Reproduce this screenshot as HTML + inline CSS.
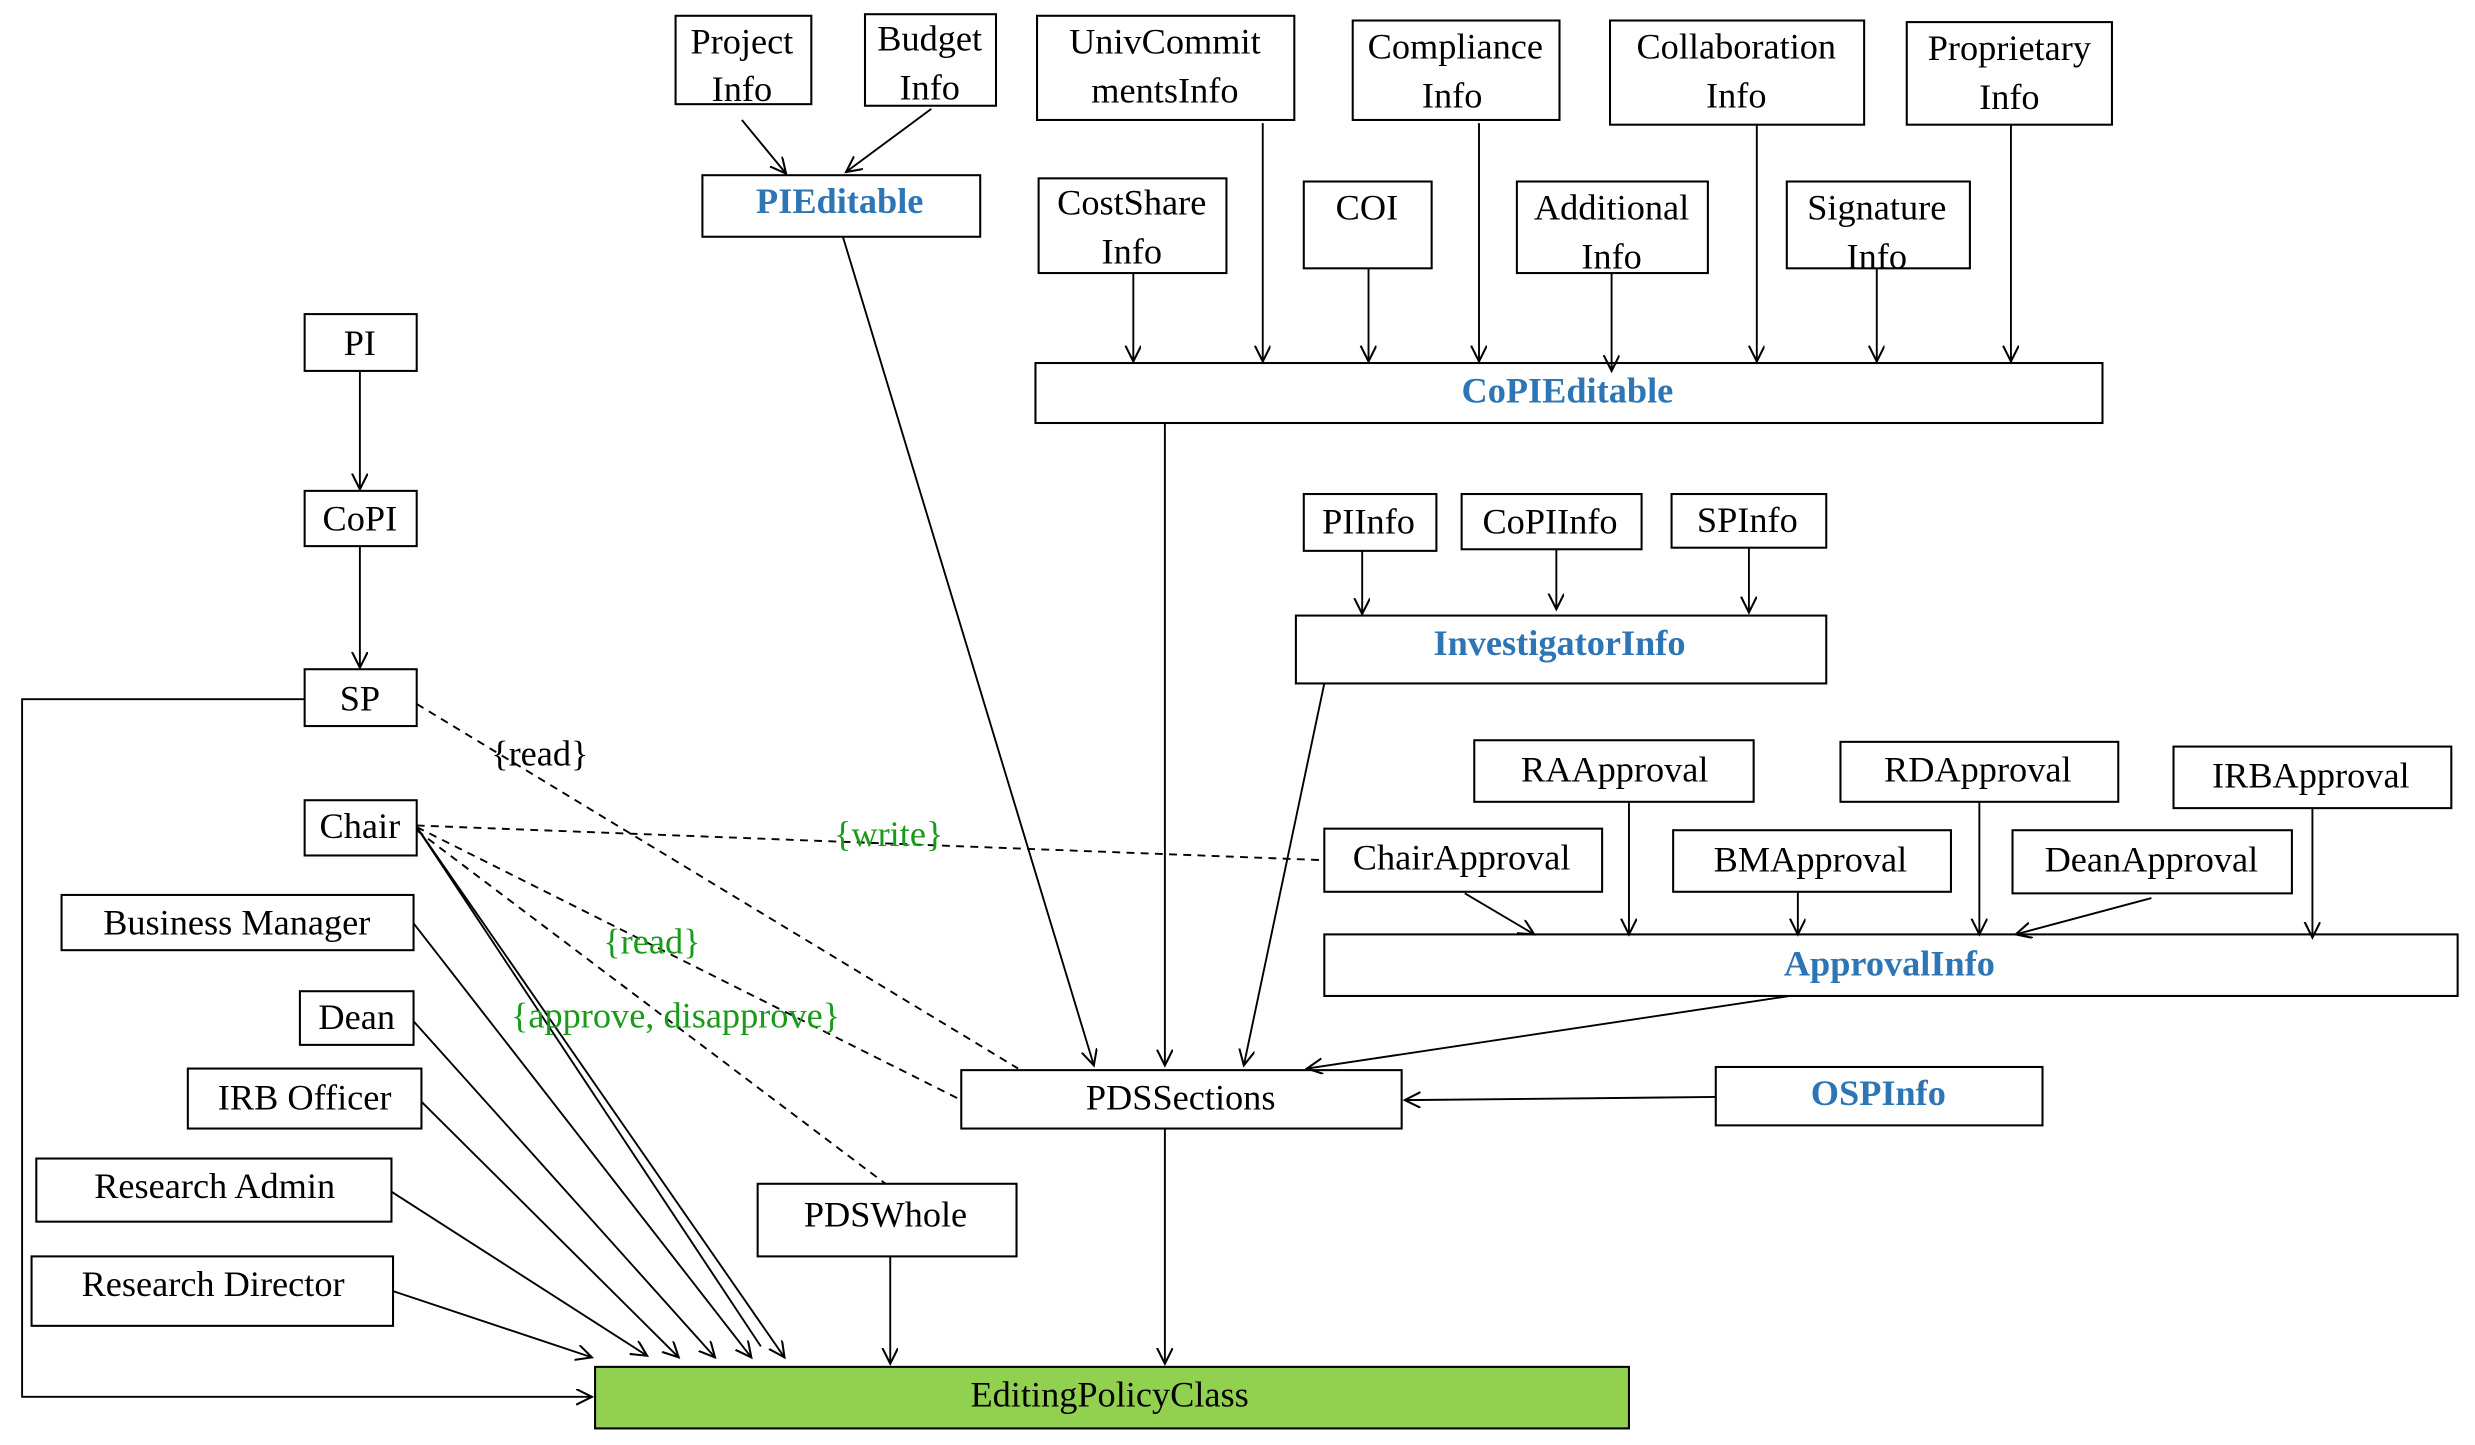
<!DOCTYPE html>
<html><head><meta charset="utf-8"><style>
html,body{margin:0;padding:0;background:#fff;}
svg{display:block;}
text{font-family:"Liberation Serif",serif;font-size:23px;fill:#000;}
.b{fill:#2e75b6;font-weight:bold;}
.g{fill:#1a9a1a;}
rect{fill:#fff;stroke:#000;stroke-width:1.3;}
line,polyline{stroke:#000;stroke-width:1.2;fill:none;}
.d{stroke-dasharray:5,4;}
</style></head><body>
<svg width="2475" height="1445" viewBox="0 0 1568 915.5" preserveAspectRatio="none" xmlns="http://www.w3.org/2000/svg">
<defs><marker id="a" markerWidth="12" markerHeight="12" refX="10" refY="5" orient="auto" markerUnits="userSpaceOnUse"><path d="M0,0 L10,5 L0,10" fill="none" stroke="#000" stroke-width="1.3"/></marker></defs>
<g text-anchor="middle" transform="scale(0.93,1)">
</g>
<!-- boxes -->
<rect x="428" y="10" width="86" height="56"/>
<rect x="548" y="9" width="83" height="58"/>
<rect x="657" y="10" width="163" height="66"/>
<rect x="857" y="13" width="131" height="63"/>
<rect x="1020" y="13" width="161" height="66"/>
<rect x="1208" y="14" width="130" height="65"/>
<rect x="445" y="111" width="176" height="39"/>
<rect x="658" y="113" width="119" height="60"/>
<rect x="826" y="115" width="81" height="55"/>
<rect x="961" y="115" width="121" height="58"/>
<rect x="1132" y="115" width="116" height="55"/>
<rect x="656" y="230" width="676" height="38"/>
<rect x="193" y="199" width="71" height="36"/>
<rect x="193" y="311" width="71" height="35"/>
<rect x="193" y="424" width="71" height="36"/>
<rect x="826" y="313" width="84" height="36"/>
<rect x="926" y="313" width="114" height="35"/>
<rect x="1059" y="313" width="98" height="34"/>
<rect x="821" y="390" width="336" height="43"/>
<rect x="934" y="469" width="177" height="39"/>
<rect x="1166" y="470" width="176" height="38"/>
<rect x="1377" y="473" width="176" height="39"/>
<rect x="193" y="507" width="71" height="35"/>
<rect x="839" y="525" width="176" height="40"/>
<rect x="1060" y="526" width="176" height="39"/>
<rect x="1275" y="526" width="177" height="40"/>
<rect x="39" y="567" width="223" height="35"/>
<rect x="839" y="592" width="718" height="39"/>
<rect x="190" y="628" width="72" height="34"/>
<rect x="119" y="677" width="148" height="38"/>
<rect x="609" y="678" width="279" height="37"/>
<rect x="1087" y="676" width="207" height="37"/>
<rect x="23" y="734" width="225" height="40"/>
<rect x="480" y="750" width="164" height="46"/>
<rect x="20" y="796" width="229" height="44"/>
<rect x="377" y="866" width="655" height="39" style="fill:#92d050"/>
<!-- solid connectors -->
<g marker-end="url(#a)">
<line x1="470" y1="76" x2="498" y2="110"/>
<line x1="590" y1="69" x2="536" y2="109"/>
<line x1="718" y1="173" x2="718" y2="229"/>
<line x1="800" y1="78" x2="800" y2="229"/>
<line x1="867" y1="170" x2="867" y2="229"/>
<line x1="937" y1="78" x2="937" y2="229"/>
<line x1="1021" y1="173" x2="1021" y2="235"/>
<line x1="1113" y1="79" x2="1113" y2="229"/>
<line x1="1189" y1="170" x2="1189" y2="229"/>
<line x1="1274" y1="79" x2="1274" y2="229"/>
<line x1="228" y1="235" x2="228" y2="310"/>
<line x1="228" y1="346" x2="228" y2="423"/>
<line x1="863" y1="349" x2="863" y2="389"/>
<line x1="986" y1="348" x2="986" y2="386"/>
<line x1="1108" y1="347" x2="1108" y2="388"/>
<line x1="928" y1="566" x2="972" y2="592"/>
<line x1="1032" y1="508" x2="1032" y2="592"/>
<line x1="1139" y1="565" x2="1139" y2="592"/>
<line x1="1254" y1="508" x2="1254" y2="592"/>
<line x1="1363" y1="569" x2="1277" y2="592"/>
<line x1="1465" y1="512" x2="1465" y2="594"/>
<line x1="534" y1="150" x2="693" y2="675"/>
<line x1="738" y1="268" x2="738" y2="675"/>
<line x1="839" y1="433" x2="788" y2="675"/>
<line x1="1134" y1="631" x2="828" y2="677"/>
<line x1="1087" y1="695" x2="890" y2="697"/>
<line x1="738" y1="715" x2="738" y2="864"/>
<line x1="564" y1="796" x2="564" y2="864"/>
<polyline points="193,443 14,443 14,885 375,885"/>
<line x1="249" y1="818" x2="375" y2="860"/>
<line x1="248" y1="755" x2="410" y2="859"/>
<line x1="267" y1="698" x2="430" y2="860"/>
<line x1="262" y1="647" x2="453" y2="860"/>
<line x1="262" y1="585" x2="476" y2="860"/>
<line x1="264" y1="524" x2="497" y2="860"/>
<line x1="266" y1="527" x2="482" y2="853" marker-end="none"/>
</g>
<!-- dashed -->
<line class="d" x1="264" y1="446" x2="645" y2="677"/>
<line class="d" x1="264" y1="523" x2="839" y2="545"/>
<line class="d" x1="264" y1="524" x2="609" y2="697"/>
<line class="d" x1="264" y1="526" x2="561" y2="750"/>
<!-- labels -->
<g text-anchor="middle" font-size="23">
<text x="470" y="34">Project</text><text x="470" y="64">Info</text>
<text x="589" y="32">Budget</text><text x="589" y="63">Info</text>
<text x="738" y="34">UnivCommit</text><text x="738" y="65">mentsInfo</text>
<text x="922" y="37">Compliance</text><text x="920" y="68">Info</text>
<text x="1100" y="37">Collaboration</text><text x="1100" y="68">Info</text>
<text x="1273" y="38">Proprietary</text><text x="1273" y="69">Info</text>
<text x="532" y="135" class="b">PIEditable</text>
<text x="717" y="136">CostShare</text><text x="717" y="167">Info</text>
<text x="866" y="139">COI</text>
<text x="1021" y="139">Additional</text><text x="1021" y="170">Info</text>
<text x="1189" y="139">Signature</text><text x="1189" y="170">Info</text>
<text x="993" y="255" class="b">CoPIEditable</text>
<text x="228" y="225">PI</text>
<text x="228" y="336">CoPI</text>
<text x="228" y="450">SP</text>
<text x="867" y="338">PIInfo</text>
<text x="982" y="338">CoPIInfo</text>
<text x="1107" y="337">SPInfo</text>
<text x="988" y="415" class="b">InvestigatorInfo</text>
<text x="1023" y="495">RAApproval</text>
<text x="1253" y="495">RDApproval</text>
<text x="1464" y="499">IRBApproval</text>
<text x="228" y="531">Chair</text>
<text x="926" y="551">ChairApproval</text>
<text x="1147" y="552">BMApproval</text>
<text x="1363" y="552">DeanApproval</text>
<text x="150" y="592">Business Manager</text>
<text x="1197" y="618" class="b">ApprovalInfo</text>
<text x="226" y="652">Dean</text>
<text x="193" y="703">IRB Officer</text>
<text x="748" y="703">PDSSections</text>
<text x="1190" y="700" class="b">OSPInfo</text>
<text x="136" y="759">Research Admin</text>
<text x="561" y="777">PDSWhole</text>
<text x="135" y="821">Research Director</text>
<text x="703" y="891">EditingPolicyClass</text>
<text x="342" y="485">{read}</text>
<text x="563" y="536" class="g">{write}</text>
<text x="413" y="604" class="g">{read}</text>
<text x="428" y="651" class="g">{approve, disapprove}</text>
</g>
</svg>
</body></html>
